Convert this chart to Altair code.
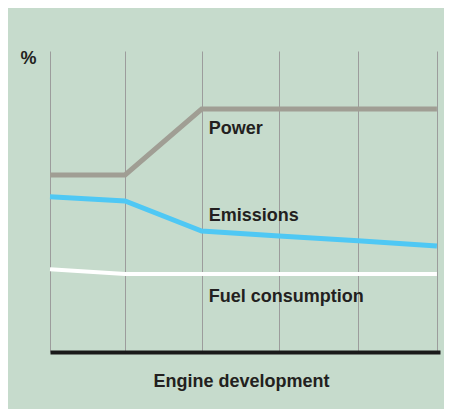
import altair as alt
import pandas as pd

stages = [0, 0.97, 1.96, 2.96, 3.98, 5]
power = [58.8, 58.8, 80.7, 80.7, 80.7, 80.7]
emissions = [51.6, 50.2, 40.2, 38.5, 37.0, 35.2]
fuel = [27.5, 25.9, 25.9, 25.9, 25.9, 25.9]

series_names = ["Power", "Emissions", "Fuel consumption"]
series_colors = ["#a09e94", "#4fc8f4", "#ffffff"]
series_widths = [5, 5, 4]
label_stage = [1.96, 1.96, 1.96]
label_y = [72.4, 43.5, 16.6]

FONT = "Liberation Sans"

rows = []
for name, vals in zip(series_names, [power, emissions, fuel]):
    for s, v in zip(stages, vals):
        rows.append({"series": name, "stage": s, "value": v})
df = pd.DataFrame(rows)
labels = pd.DataFrame({"series": series_names, "stage": label_stage, "value": label_y})

xscale = alt.Scale(domain=[0, 5.04], nice=False, zero=False)
yscale = alt.Scale(domain=[0, 100], nice=False)

xaxis = alt.Axis(values=stages, labels=False, ticks=False, grid=True, gridColor="#9c9c9c",
                 gridWidth=1, domain=True, domainColor="#1a1a1a", domainWidth=4,
                 title="Engine development", titleFont=FONT, titleFontSize=18,
                 titleFontWeight="bold", titleColor="#231f20", titleX=191, titleY=34,
                 titleBaseline="alphabetic", titleAlign="center")
yaxis = alt.Axis(labels=False, ticks=False, grid=False, domain=False, title="%",
                 titleAngle=0, titleFont=FONT, titleFontSize=18, titleFontWeight="bold",
                 titleColor="#231f20", titleX=-22, titleY=12, titleAlign="center",
                 titleBaseline="alphabetic")

layers = []
for name, col, w in zip(series_names, series_colors, series_widths):
    layers.append(
        alt.Chart(df).transform_filter(alt.datum.series == name).mark_line(
            color=col, strokeWidth=w, strokeCap="butt", strokeJoin="miter"
        ).encode(
            x=alt.X("stage:Q", scale=xscale, axis=xaxis),
            y=alt.Y("value:Q", scale=yscale, axis=yaxis),
            order="stage:Q",
        )
    )

text = alt.Chart(labels).mark_text(
    align="left", baseline="alphabetic", dx=7, font=FONT, fontSize=18,
    fontWeight="bold", color="#231f20"
).encode(x=alt.X("stage:Q", scale=xscale), y=alt.Y("value:Q", scale=yscale), text="series:N")

chart = alt.layer(*layers, text).properties(
    width=390, height=301,
    background="#c6dbcc",
    padding={"left": 42, "top": 43, "right": 4, "bottom": 57},
    autosize=alt.AutoSizeParams(type="none"),
).configure_view(stroke=None)

chart.save("out.html", embed_options={"renderer": "svg", "actions": False})
